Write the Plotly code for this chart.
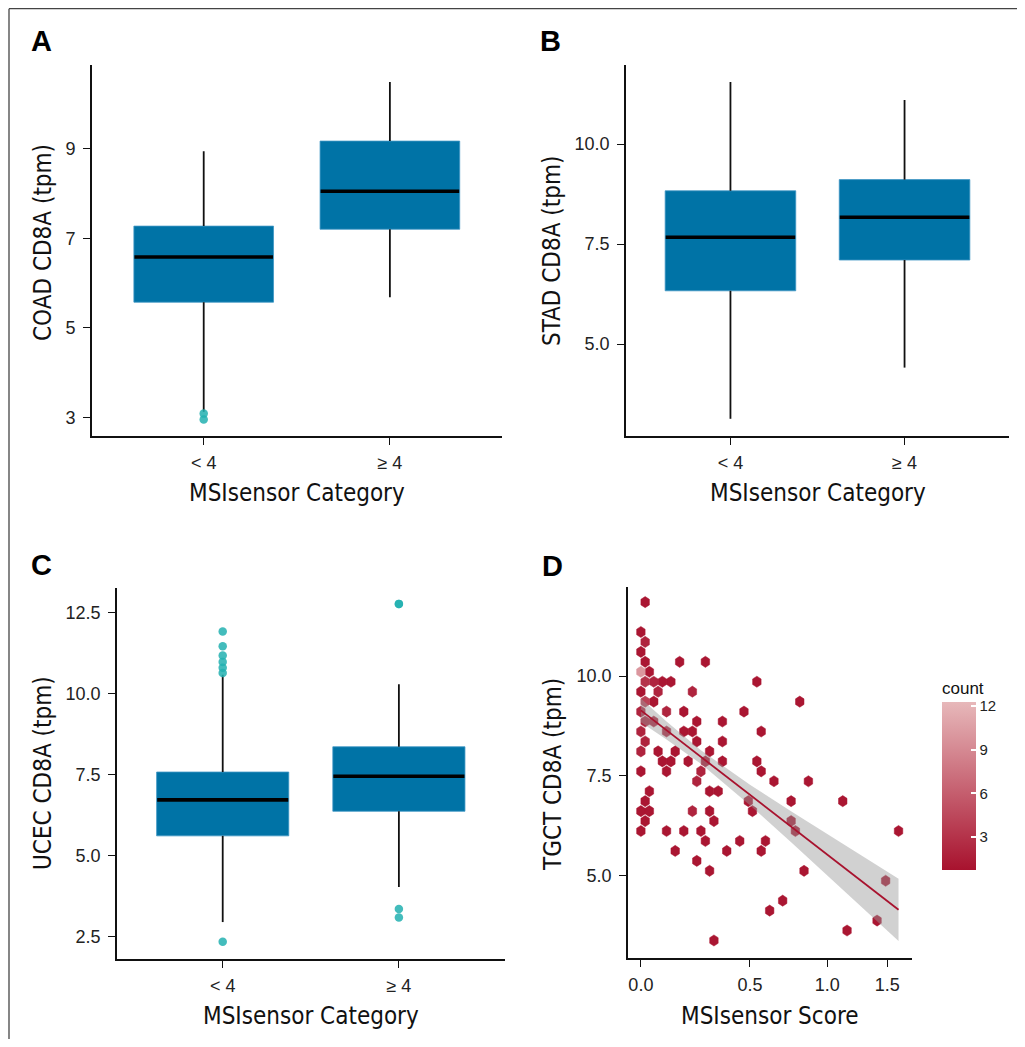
import numpy as np
import plotly.graph_objects as go
import plotly.colors as pc

# page is offset by the browser's default 8px body margin
OFF = 8
WF, HF = 1009, 1031

# ---------------- data ----------------
categories = ["< 4", "≥ 4"]
cat_pos = [1, 2]

# Panel A: COAD
coad_q1 = [5.57, 7.20]
coad_median = [6.58, 8.05]
coad_q3 = [7.27, 9.17]
coad_lower = [3.12, 5.68]
coad_upper = [8.94, 10.49]
coad_out_cat = [1, 1]
coad_out_val = [3.08, 2.95]

# Panel B: STAD
stad_q1 = [6.33, 7.10]
stad_median = [7.67, 8.17]
stad_q3 = [8.83, 9.11]
stad_lower = [3.13, 4.41]
stad_upper = [11.55, 11.10]
stad_out_cat = []
stad_out_val = []

# Panel C: UCEC
ucec_q1 = [5.62, 6.38]
ucec_median = [6.73, 7.46]
ucec_q3 = [7.59, 8.37]
ucec_lower = [2.96, 4.04]
ucec_upper = [10.59, 10.30]
ucec_out_cat = [1, 1, 1, 1, 1, 1, 1, 2, 2, 2, 2]
ucec_out_val = [11.93, 11.47, 11.19, 10.99, 10.81, 10.65, 2.35, 12.78, 12.78, 3.36, 3.10]

# Panel D: TGCT hexbin (MSIsensor score, CD8A, count)
hex_score = [0.016,
             0.000,
             0.016,
             0.000,
             0.016, 0.155, 0.271,
             0.000, 0.032,
             0.016, 0.049, 0.083, 0.118, 0.539,
             0.000, 0.066, 0.211,
             0.016, 0.049, 0.805,
             0.000, 0.100, 0.173, 0.467,
             0.016, 0.049, 0.231, 0.354,
             0.000, 0.100, 0.173, 0.211, 0.564,
             0.016, 0.231, 0.354,
             0.000, 0.066, 0.136, 0.291,
             0.083, 0.118, 0.192, 0.271, 0.354, 0.539,
             0.000, 0.100, 0.250, 0.564,
             0.231, 0.640, 0.864,
             0.032, 0.291, 0.333,
             0.016, 0.491, 0.748, 1.118,
             0.000, 0.032, 0.211, 0.291, 0.514,
             0.016, 0.312, 0.748,
             0.000, 0.100, 0.173, 0.250, 0.776, 1.606,
             0.271, 0.444, 0.589,
             0.136, 0.376, 0.564,
             0.231,
             0.291, 0.834,
             1.484,
             0.694,
             0.614,
             1.406,
             1.152,
             0.312]
hex_cd8a = [11.86,
            11.11,
            10.86,
            10.61,
            10.36, 10.36, 10.36,
            10.11, 10.11,
            9.86, 9.86, 9.86, 9.86, 9.86,
            9.61, 9.61, 9.61,
            9.36, 9.36, 9.36,
            9.11, 9.11, 9.11, 9.11,
            8.86, 8.86, 8.86, 8.86,
            8.61, 8.61, 8.61, 8.61, 8.61,
            8.36, 8.36, 8.36,
            8.11, 8.11, 8.11, 8.11,
            7.86, 7.86, 7.86, 7.86, 7.86, 7.86,
            7.61, 7.61, 7.61, 7.61,
            7.36, 7.36, 7.36,
            7.11, 7.11, 7.11,
            6.86, 6.86, 6.86, 6.86,
            6.61, 6.61, 6.61, 6.61, 6.61,
            6.36, 6.36, 6.36,
            6.11, 6.11, 6.11, 6.11, 6.11, 6.11,
            5.86, 5.86, 5.86,
            5.61, 5.61, 5.61,
            5.36,
            5.11, 5.11,
            4.86,
            4.36,
            4.11,
            3.86,
            3.61,
            3.36]
hex_count = [1,
             1,
             2,
             1,
             1, 1, 1,
             10, 1,
             3, 2, 1, 1, 1,
             1, 2, 2,
             4, 1, 1,
             2, 2, 1, 1,
             2, 2, 1, 1,
             2, 2, 1, 1, 1,
             2, 1, 1,
             2, 1, 1, 1,
             1, 1, 1, 1, 1, 1,
             1, 1, 2, 1,
             2, 1, 1,
             1, 1, 1,
             1, 1, 1, 1,
             1, 1, 2, 1, 1,
             1, 1, 1,
             1, 1, 1, 1, 1, 1,
             1, 1, 1,
             1, 1, 1,
             1,
             1, 1,
             1,
             1,
             1,
             1,
             1,
             1]

# linear fit with 95% CI
smooth_score = [0.0, 0.1, 0.25, 0.5, 0.75, 1.0, 1.25, 1.606]
smooth_fit = [9.14, 8.64, 7.97, 7.02, 6.21, 5.51, 4.90, 4.13]
smooth_lo = [8.84, 8.41, 7.80, 6.76, 5.82, 5.00, 4.27, 3.35]
smooth_hi = [9.44, 8.86, 8.14, 7.27, 6.60, 6.03, 5.53, 4.91]

score_ticks = [0.0, 0.5, 1.0, 1.5]
score_ticktext = ["0.0", "0.5", "1.0", "1.5"]
count_ticks = [3, 6, 9, 12]

# ---------------- style ----------------
BOX_BLUE = "#0073A6"
OUT_TEAL = "rgba(34,176,176,0.85)"
LOW_RED = "#A8122E"
HIGH_PINK = "#E7B8BA"
CMIN, CMAX = 0.71, 12.29
TICK_FONT = dict(family="Liberation Sans, Arial, sans-serif", size=18, color="#222")
TITLE_FONT = dict(family="DejaVu Sans Condensed, Liberation Sans Narrow, Arial Narrow, sans-serif",
                  size=24, color="#111")


def fx(px):
    return (px - OFF) / WF


def fy(py):
    return 1 - (py - OFF) / HF


fig = go.Figure()


def add_box_panel(xa, ya, q1, med, q3, lo, hi, out_cat, out_val):
    q1 = np.array(q1); q3 = np.array(q3)
    fig.add_trace(go.Bar(x=cat_pos, y=q3 - q1, base=q1, width=0.75,
                         marker=dict(color=BOX_BLUE, line=dict(color="#3E95C4", width=0.8)),
                         xaxis=xa, yaxis=ya, showlegend=False, hoverinfo="skip"))
    wx, wy = [], []
    for p, a, b, c, d in zip(cat_pos, q3, hi, q1, lo):
        wx += [p, p, None, p, p, None]
        wy += [a, b, None, c, d, None]
    fig.add_trace(go.Scatter(x=wx, y=wy, mode="lines", line=dict(color="#111", width=1.8),
                             xaxis=xa, yaxis=ya, showlegend=False, hoverinfo="skip"))
    mx, my = [], []
    for p, m in zip(cat_pos, med):
        mx += [p - 0.372, p + 0.372, None]
        my += [m, m, None]
    fig.add_trace(go.Scatter(x=mx, y=my, mode="lines", line=dict(color="#000", width=3.6),
                             xaxis=xa, yaxis=ya, showlegend=False, hoverinfo="skip"))
    if out_val:
        fig.add_trace(go.Scatter(x=out_cat, y=out_val, mode="markers",
                                 marker=dict(color=OUT_TEAL, size=8.5, line=dict(width=0)),
                                 xaxis=xa, yaxis=ya, showlegend=False, hoverinfo="skip"))


add_box_panel("x", "y", coad_q1, coad_median, coad_q3, coad_lower, coad_upper, coad_out_cat, coad_out_val)
add_box_panel("x2", "y2", stad_q1, stad_median, stad_q3, stad_lower, stad_upper, stad_out_cat, stad_out_val)
add_box_panel("x3", "y3", ucec_q1, ucec_median, ucec_q3, ucec_lower, ucec_upper, ucec_out_cat, ucec_out_val)

# ---- panel D hexbin ----
hex_tx = np.log1p(np.array(hex_score))
hex_y = np.array(hex_cd8a)
counts = np.array(hex_count)
HW, DY = 0.0158, 0.070  # hexagon half-width (log1p units) and quarter-height


def count_color(n):
    t = (n - CMIN) / (CMAX - CMIN)
    return pc.find_intermediate_color(pc.hex_to_rgb(LOW_RED), pc.hex_to_rgb(HIGH_PINK), t, colortype="tuple")


for n in sorted(set(hex_count)):
    xs, ys = [], []
    for tx, yy, cnt in zip(hex_tx, hex_y, counts):
        if cnt != n:
            continue
        xs += [tx + HW, tx, tx - HW, tx - HW, tx, tx + HW, tx + HW, None]
        ys += [yy + DY, yy + 2 * DY, yy + DY, yy - DY, yy - 2 * DY, yy - DY, yy + DY, None]
    r, g, b = count_color(n)
    col = "rgb(%d,%d,%d)" % (round(r), round(g), round(b))
    fig.add_trace(go.Scatter(x=xs, y=ys, mode="lines", fill="toself", fillcolor=col,
                             line=dict(color=col, width=0.5), xaxis="x4", yaxis="y4",
                             showlegend=False, hoverinfo="skip"))

# colorbar carrier (invisible markers)
fig.add_trace(go.Scatter(x=hex_tx, y=hex_y, mode="markers", xaxis="x4", yaxis="y4",
                         marker=dict(color=counts, cmin=CMIN, cmax=CMAX, opacity=0, size=1,
                                     colorscale=[[0, LOW_RED], [1, HIGH_PINK]], showscale=True,
                                     colorbar=dict(
                                         title=dict(text="count", side="top",
                                                    font=dict(family="Liberation Sans, Arial, sans-serif",
                                                              size=17, color="#111")),
                                         tickvals=count_ticks, ticks="inside", ticklen=5,
                                         tickcolor="white", tickwidth=1.5,
                                         tickfont=dict(family="Liberation Sans, Arial, sans-serif",
                                                       size=15, color="#222"),
                                         outlinewidth=0, thickness=34,
                                         lenmode="pixels", len=192,
                                         x=fx(942), xanchor="left", xpad=0,
                                         y=fy(774), yanchor="middle", ypad=0)),
                         showlegend=False, hoverinfo="skip"))

s_tx = np.log1p(np.array(smooth_score))
fig.add_trace(go.Scatter(x=np.concatenate([s_tx, s_tx[::-1]]),
                         y=np.concatenate([np.array(smooth_hi), np.array(smooth_lo)[::-1]]),
                         mode="lines", fill="toself", fillcolor="rgba(153,153,153,0.45)",
                         line=dict(width=0), xaxis="x4", yaxis="y4", showlegend=False, hoverinfo="skip"))
fig.add_trace(go.Scatter(x=s_tx, y=smooth_fit, mode="lines", line=dict(color=LOW_RED, width=1.8),
                         xaxis="x4", yaxis="y4", showlegend=False, hoverinfo="skip"))

# ---------------- layout ----------------
axis_common = dict(showline=True, linecolor="#111", linewidth=1.6, ticks="outside", ticklen=7,
                   tickwidth=1.3, tickcolor="#111", showgrid=False, zeroline=False,
                   tickfont=TICK_FONT, fixedrange=True)

cat_axis = dict(axis_common, tickvals=cat_pos, ticktext=categories, range=[0.4, 2.6], ticklabelstandoff=3)

fig.update_layout(
    width=WF, height=HF, autosize=False,
    margin=dict(l=0, r=0, t=0, b=0),
    paper_bgcolor="white", plot_bgcolor="white",
    xaxis=dict(cat_axis, domain=[fx(92), fx(501.6)], anchor="y"),
    yaxis=dict(axis_common, domain=[fy(436), fy(65)], anchor="x", range=[2.58, 10.87],
               tickvals=[3, 5, 7, 9], ticklabelstandoff=4),
    xaxis2=dict(cat_axis, domain=[fx(626), fx(1009)], anchor="y2"),
    yaxis2=dict(axis_common, domain=[fy(436), fy(65)], anchor="x2", range=[2.70, 11.975],
                tickvals=[5, 7.5, 10], tickformat=".1f", ticklabelstandoff=4),
    xaxis3=dict(cat_axis, domain=[fx(117), fx(504.6)], anchor="y3"),
    yaxis3=dict(axis_common, domain=[fy(959), fy(588)], anchor="x3", range=[1.82, 13.27],
                tickvals=[2.5, 5, 7.5, 10, 12.5], tickformat=".1f", ticklabelstandoff=4),
    xaxis4=dict(axis_common, domain=[fx(628), fx(911.5)], anchor="y4", range=[-0.0479, 1.006],
                tickvals=list(np.log1p(score_ticks)), ticktext=score_ticktext, ticklabelstandoff=3),
    yaxis4=dict(axis_common, domain=[fy(958), fy(587)], anchor="x4", range=[2.92, 12.24],
                tickvals=[5, 7.5, 10], tickformat=".1f", ticklabelstandoff=4),
)

annotations = []
for letter, (px, py) in zip("ABCD", [(41, 41), (550, 41), (41, 565), (552, 566)]):
    annotations.append(dict(text="<b>%s</b>" % letter, x=fx(px), y=fy(py), xref="paper", yref="paper",
                            showarrow=False, xanchor="center", yanchor="middle",
                            font=dict(family="Liberation Sans, Arial, sans-serif", size=29, color="#000")))
xtitles = [("MSIsensor Category", 296.5, 493), ("MSIsensor Category", 818, 493),
           ("MSIsensor Category", 310.5, 1016), ("MSIsensor Score", 769.5, 1016)]
for t, px, py in xtitles:
    annotations.append(dict(text=t, x=fx(px), y=fy(py), xref="paper", yref="paper", showarrow=False,
                            xanchor="center", yanchor="middle", font=TITLE_FONT))
ytitles = [("COAD CD8A (tpm)", 43, 243), ("STAD CD8A (tpm)", 552, 251),
           ("UCEC CD8A (tpm)", 43, 773), ("TGCT CD8A (tpm)", 553, 775)]
for t, px, py in ytitles:
    annotations.append(dict(text=t, x=fx(px), y=fy(py), xref="paper", yref="paper", showarrow=False,
                            xanchor="center", yanchor="middle", textangle=-90, font=TITLE_FONT))
fig.update_layout(annotations=annotations)

# figure frame (top and left edges)
fig.add_shape(type="line", xref="paper", yref="paper", x0=fx(9), x1=1, y0=fy(8.7), y1=fy(8.7),
              line=dict(color="#444", width=1.3))
fig.add_shape(type="line", xref="paper", yref="paper", x0=fx(9), x1=fx(9), y0=fy(8.7), y1=0,
              line=dict(color="#444", width=1.3))

fig.write_html("out.html")
